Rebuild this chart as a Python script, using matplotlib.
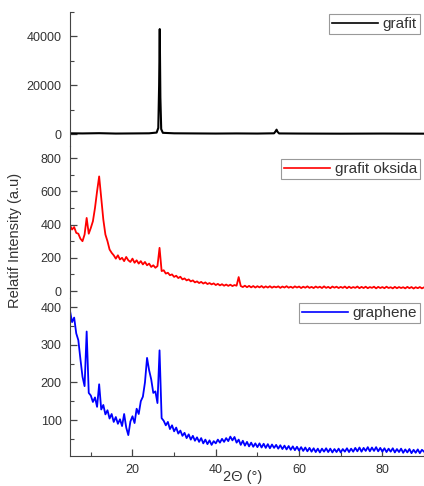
import numpy as np
import matplotlib
matplotlib.use("Agg")
import matplotlib.pyplot as plt
from matplotlib.ticker import MultipleLocator

plt.rcParams['font.family'] = ['Liberation Sans', 'DejaVu Sans']

# ---- data ----
x_grafit = [5, 8, 12, 16, 20, 24, 25.8, 26.2, 26.4, 26.55, 26.7, 26.9, 27.3,
            30, 35, 40, 45, 50, 54.0, 54.4, 54.6, 54.8, 55.2, 60, 70, 80, 90]
y_grafit = [300, 250, 350, 200, 250, 300, 600, 2500, 20000, 43000, 15000, 2000, 500,
            300, 250, 200, 250, 200, 300, 1200, 1800, 1000, 250, 200, 150, 200, 150]

two_theta = np.arange(5, 90.01, 0.5)

y_oksida = [
    395, 370, 385, 350, 345, 315, 300, 340, 440, 345,
    380, 420, 500, 600, 690, 560, 430, 340, 300, 250,
    230, 215, 195, 215, 190, 200, 180, 205, 185, 175,
    195, 170, 185, 165, 180, 160, 175, 155, 165, 145,
    155, 140, 150, 260, 120, 125, 105, 110, 95, 100,
    85, 92, 78, 86, 70, 76, 64, 70, 58, 64,
    52, 58, 48, 55, 45, 52, 42, 48, 40, 46,
    36, 43, 34, 41, 32, 39, 31, 38, 30, 36,
    32, 84, 30, 24, 32, 23, 31, 22, 30, 21,
    29, 22, 30, 20, 28, 21, 29, 20, 27, 22,
    28, 19, 27, 21, 29, 20, 26, 19, 28, 21,
    27, 18, 26, 20, 28, 19, 25, 18, 27, 20,
    26, 18, 28, 19, 25, 17, 27, 20, 26, 18,
    25, 19, 27, 17, 26, 18, 24, 19, 27, 17,
    25, 18, 26, 17, 24, 19, 26, 16, 25, 18,
    24, 17, 26, 18, 23, 16, 25, 17, 24, 18,
    23, 16, 25, 17, 24, 15, 23, 17, 24, 16,
    22]

y_graphene = [
    390, 360, 372, 330, 312, 262, 215, 190, 335, 172,
    165, 148, 160, 135, 195, 128, 140, 115, 126, 104,
    116, 95, 108, 90, 102, 84, 116, 80, 60, 96,
    110, 92, 130, 116, 150, 162, 200, 265, 232, 208,
    172, 176, 145, 285, 105, 98, 86, 95, 76, 86,
    70, 80, 64, 72, 58, 66, 52, 62, 48, 58,
    45, 54, 42, 52, 38, 48, 36, 46, 34, 44,
    38, 48, 40, 50, 42, 52, 44, 56, 46, 55,
    40, 48, 34, 45, 32, 42, 30, 40, 29, 38,
    28, 38, 27, 37, 26, 36, 25, 35, 26, 34,
    24, 33, 23, 32, 22, 31, 21, 30, 20, 29,
    19, 28, 18, 27, 17, 26, 16, 25, 15, 24,
    14, 24, 16, 25, 15, 24, 14, 23, 15, 24,
    14, 23, 16, 25, 15, 24, 16, 26, 17, 27,
    16, 26, 18, 28, 17, 27, 18, 28, 17, 26,
    16, 25, 15, 24, 16, 25, 14, 23, 15, 24,
    13, 22, 14, 23, 12, 21, 13, 22, 12, 21,
    16]

labels = ["grafit", "grafit oksida", "graphene"]
colors = ["black", "#ff0000", "#0000ff"]

W, H = 424, 486
fig = plt.figure(figsize=(W / 100, H / 100), dpi=100)

def fx(px):
    return px / W

def fy(py):
    return 1 - py / H

left = fx(70)
width = fx(424) - left
ax_top = fig.add_axes([left, fy(146), width, (146 - 12) / H])
ax_mid = fig.add_axes([left, fy(298), width, (298 - 146) / H])
ax_bot = fig.add_axes([left, fy(456), width, (456 - 298) / H])

ax_top.plot(x_grafit, y_grafit, color=colors[0], lw=1.5, label=labels[0])
ax_mid.plot(two_theta, y_oksida, color=colors[1], lw=1.3, label=labels[1])
ax_bot.plot(two_theta, y_graphene, color=colors[2], lw=1.3, label=labels[2])

ax_top.set_ylim(-4900, 50000)
ax_mid.set_ylim(-42, 873)
ax_bot.set_ylim(4.5, 424)

ax_top.yaxis.set_major_locator(MultipleLocator(20000))
ax_top.yaxis.set_minor_locator(MultipleLocator(10000))
ax_mid.yaxis.set_major_locator(MultipleLocator(200))
ax_mid.yaxis.set_minor_locator(MultipleLocator(100))
ax_bot.yaxis.set_major_locator(MultipleLocator(100))
ax_bot.yaxis.set_minor_locator(MultipleLocator(50))

spine_col = '#444444'
for ax in (ax_top, ax_mid, ax_bot):
    ax.set_xlim(5, 90)
    ax.xaxis.set_major_locator(MultipleLocator(20))
    ax.xaxis.set_minor_locator(MultipleLocator(10))
    ax.spines['top'].set_visible(False)
    ax.spines['right'].set_visible(False)
    ax.spines['left'].set_color(spine_col)
    ax.spines['bottom'].set_color(spine_col)
    ax.patch.set_alpha(0)
    ax.tick_params(axis='both', which='major', direction='in', length=5,
                   width=0.9, color=spine_col, labelsize=9,
                   labelcolor='#333333', pad=6)
    ax.tick_params(axis='both', which='minor', direction='in', length=3,
                   width=0.8, color=spine_col)

for ax in (ax_top, ax_mid):
    ax.spines['bottom'].set_visible(False)
    ax.tick_params(axis='x', which='both', bottom=False, labelbottom=False)

ax_bot.set_xlabel("2Θ (°)", fontsize=10.5, color='#333333', labelpad=-2)
ax_bot.xaxis.set_label_coords(fx(243 - 70) / width, -0.09)
fig.text(fx(15), fy(240), "Relatif Intensity (a.u)", rotation=90,
         ha='center', va='center', fontsize=10.5, color='#333333')

leg_tops = [14, 159, 303]
for ax, ty in zip((ax_top, ax_mid, ax_bot), leg_tops):
    leg = ax.legend(loc='upper right', bbox_to_anchor=(fx(420), fy(ty)),
                    bbox_transform=fig.transFigure, borderaxespad=0,
                    fontsize=11, fancybox=False, framealpha=1,
                    edgecolor='#999999', handlelength=3.0,
                    handletextpad=0.3, borderpad=0.2)
    leg.get_frame().set_linewidth(0.8)
    for t in leg.get_texts():
        t.set_color('#333333')
    for h in leg.get_lines():
        h.set_linewidth(1.2)

fig.savefig("out.png", dpi=100)
